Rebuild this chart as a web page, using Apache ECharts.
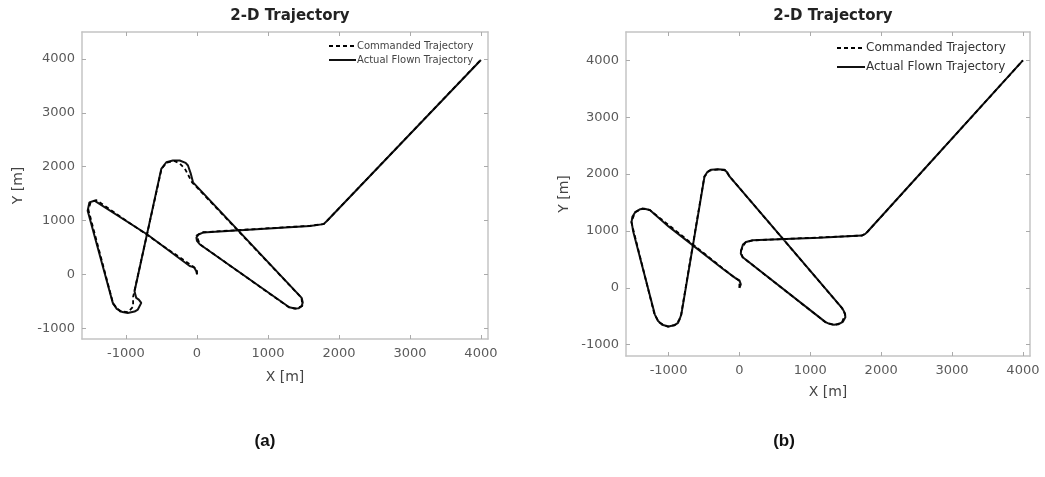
<!DOCTYPE html>
<html>
<head>
<meta charset="utf-8">
<script src="https://cdn.jsdelivr.net/npm/echarts@6/dist/echarts.min.js"></script>
<style>
html,body{margin:0;padding:0;background:#fff;}
#chart{width:1045px;height:477px;}
</style>
</head>
<body>
<div id="chart"></div>
<script>
// ---- data ----
const panelTitles = ['2-D Trajectory', '2-D Trajectory'];
const panelLabels = ['(a)', '(b)'];
const seriesNames = ['Commanded Trajectory', 'Actual Flown Trajectory'];
const xTicks = [-1000, 0, 1000, 2000, 3000, 4000];
const yTicks = [-1000, 0, 1000, 2000, 3000, 4000];

// Panel (a)
const aCommanded = [[0,0],[0,80],[-60,150],[-1420,1380],[-1500,1330],[-1530,1200],[-1180,-550],[-1080,-690],[-970,-700],[-900,-600],[-900,-420],[-500,1955],[-430,2075],[-320,2105],[-244,2060],[-170,1960],[-70,1710],[1472,-434],[1485,-585],[1390,-636],[1295,-612],[40,560],[-8,720],[85,782],[1600,903],[1790,936],[4000,3985]];
const aActual = [[0,0],[-10,60],[-40,130],[-103,155],[-700,740],[-1445,1368],[-1516,1336],[-1540,1181],[-1186,-530],[-1130,-640],[-1050,-700],[-975,-716],[-880,-690],[-833,-653],[-785,-530],[-820,-470],[-856,-437],[-880,-312],[-503,1959],[-432,2082],[-340,2115],[-244,2114],[-160,2070],[-127,2021],[-90,1880],[-56,1709],[1475,-437],[1490,-520],[1475,-591],[1430,-630],[1380,-634],[1300,-610],[38,560],[0,620],[-8,683],[20,740],[85,776],[1592,900],[1783,933],[1830,990],[4000,3980]];

// Panel (b)
const bCommanded = [[0,0],[0,120],[-70,180],[-1262,1366],[-1370,1396],[-1470,1330],[-1525,1160],[-1198,-470],[-1130,-610],[-1010,-685],[-910,-655],[-850,-570],[-822,-470],[-495,1955],[-425,2062],[-300,2082],[-200,2068],[-138,1958],[1445,-354],[1492,-470],[1445,-615],[1340,-655],[1213,-604],[45,538],[20,650],[85,800],[190,834],[1729,919],[1785,955],[4000,4000]];
const bActual = [[0,0],[20,60],[0,130],[-60,175],[-240,340],[-656,746],[-1000,1080],[-1264,1368],[-1340,1390],[-1404,1380],[-1470,1330],[-1510,1250],[-1521,1160],[-1500,1000],[-1194,-467],[-1150,-580],[-1090,-650],[-1000,-680],[-920,-660],[-866,-616],[-840,-540],[-819,-467],[-492,1959],[-450,2040],[-397,2078],[-300,2085],[-211,2078],[-170,2030],[-140,1959],[600,881],[1449,-356],[1490,-450],[1495,-520],[1460,-600],[1400,-640],[1332,-652],[1270,-635],[1215,-604],[47,538],[20,600],[24,657],[50,760],[94,805],[187,835],[1124,882],[1729,919],[1776,948],[1810,990],[4000,4000]];

// ---- layout ----
const FONT = 'DejaVu Sans';
const grids = [
  {left: 82, top: 32, width: 406, height: 307},
  {left: 626, top: 32, width: 404, height: 324}
];
const xRange = [[-1620, 4100], [-1600, 4100]];
const yRange = [[-1200, 4500], [-1200, 4500]];
const axisGray = '#c4c4c4';
const plain = v => String(v);

const xAxes = [], yAxes = [];
grids.forEach((g, i) => {
  ['bottom', 'top'].forEach(pos => {
    xAxes.push({
      type: 'value', gridIndex: i, position: pos,
      min: xRange[i][0], max: xRange[i][1],
      name: pos === 'bottom' ? 'X [m]' : '',
      nameLocation: 'middle', nameGap: i === 0 ? 31 : 29,
      nameTextStyle: {fontFamily: FONT, fontSize: 14, color: '#444'},
      axisLine: {show: true, onZero: false, lineStyle: {color: axisGray, width: 1.5}},
      axisTick: {show: true, inside: true, length: 4, customValues: xTicks, lineStyle: {color: '#aaa'}},
      axisLabel: {show: pos === 'bottom', customValues: xTicks, formatter: plain, margin: 8, fontFamily: FONT, fontSize: 13, color: '#5a5a5a'},
      splitLine: {show: false}
    });
  });
  ['left', 'right'].forEach(pos => {
    yAxes.push({
      type: 'value', gridIndex: i, position: pos,
      min: yRange[i][0], max: yRange[i][1],
      name: pos === 'left' ? 'Y [m]' : '',
      nameLocation: 'middle', nameGap: i === 0 ? 57 : 55,
      nameTextStyle: {fontFamily: FONT, fontSize: 14, color: '#444'},
      axisLine: {show: true, onZero: false, lineStyle: {color: axisGray, width: 1.5}},
      axisTick: {show: true, inside: true, length: 4, customValues: yTicks, lineStyle: {color: '#aaa'}},
      axisLabel: {show: pos === 'left', customValues: yTicks, formatter: plain, margin: 7, fontFamily: FONT, fontSize: 13, color: '#5a5a5a'},
      splitLine: {show: false}
    });
  });
});

const panelData = [[aCommanded, aActual], [bCommanded, bActual]];
const series = [];
panelData.forEach((pd, i) => {
  series.push({
    name: seriesNames[1], type: 'line', xAxisIndex: i * 2, yAxisIndex: i * 2,
    data: pd[1], symbol: 'none', showSymbol: false, smooth: false, z: 2,
    lineStyle: {color: '#111', width: 2, type: 'solid'}, itemStyle: {color: '#111'}
  });
  series.push({
    name: seriesNames[0], type: 'line', xAxisIndex: i * 2, yAxisIndex: i * 2,
    data: pd[0], symbol: 'none', showSymbol: false, smooth: false, z: 3,
    lineStyle: {color: '#000', width: 1.8, type: [4, 3]}, itemStyle: {color: '#000'}
  });
});

const legendCommon = {
  data: seriesNames, orient: 'vertical', selectedMode: false, padding: 0,
  itemStyle: {opacity: 0}
};

const option = {
  animation: false,
  backgroundColor: '#fff',
  title: [
    {text: panelTitles[0], left: 285, top: 4, textAlign: 'center', textStyle: {fontFamily: FONT, fontSize: 15, fontWeight: 'bold', color: '#222'}},
    {text: panelTitles[1], left: 828, top: 4, textAlign: 'center', textStyle: {fontFamily: FONT, fontSize: 15, fontWeight: 'bold', color: '#222'}},
    {text: panelLabels[0], left: 260, top: 428, textAlign: 'center', textStyle: {fontFamily: 'Liberation Sans', fontSize: 17, fontWeight: 'bold', color: '#111'}},
    {text: panelLabels[1], left: 779, top: 428, textAlign: 'center', textStyle: {fontFamily: 'Liberation Sans', fontSize: 17, fontWeight: 'bold', color: '#111'}}
  ],
  legend: [
    Object.assign({left: 328, top: 41, itemWidth: 27, itemHeight: 8, itemGap: 4,
     textStyle: {fontFamily: FONT, fontSize: 10, color: '#444', padding: [0,0,0,-4]}}, legendCommon),
    Object.assign({left: 836, top: 42, itemWidth: 28, itemHeight: 10, itemGap: 7,
     textStyle: {fontFamily: FONT, fontSize: 12, color: '#333', padding: [0,0,0,-4]}}, legendCommon)
  ],
  grid: grids.map(g => Object.assign({containLabel: false}, g)),
  xAxis: xAxes,
  yAxis: yAxes,
  series: series
};

const chart = echarts.init(document.getElementById('chart'), null, {renderer: 'canvas'});
chart.setOption(option);
</script>
</body>
</html>
